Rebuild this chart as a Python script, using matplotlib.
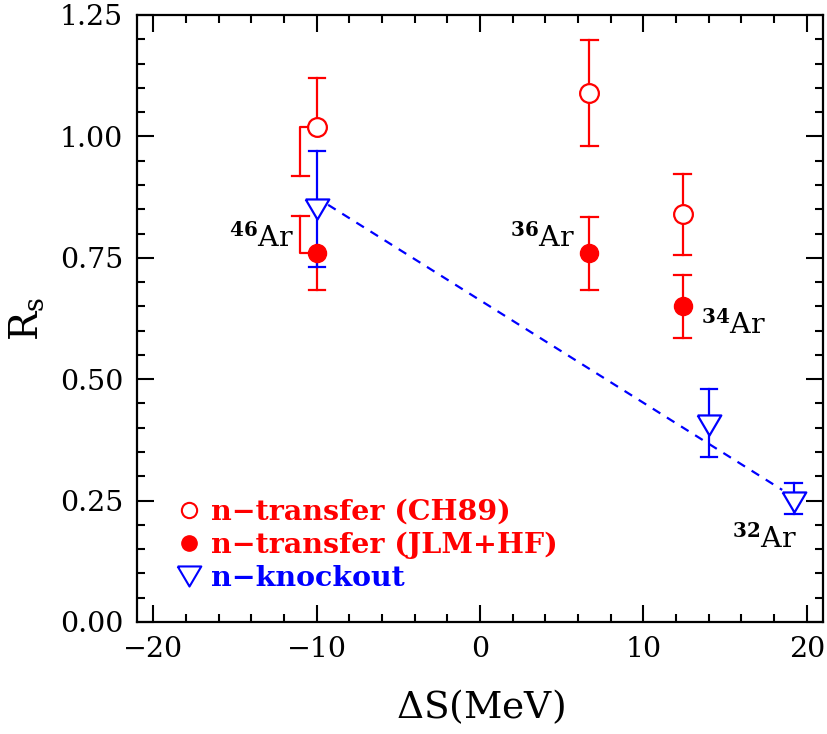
import matplotlib
matplotlib.use("Agg")
import matplotlib.pyplot as plt
from matplotlib.lines import Line2D
from matplotlib.ticker import MultipleLocator

plt.rcParams['font.family'] = ['DejaVu Serif']
plt.rcParams['mathtext.fontset'] = 'dejavuserif'

RED = '#ff0000'
BLUE = '#0000ff'

# n-transfer (CH89), open circles
ch_x = [-10.0, 6.7, 12.4]
ch_y = [1.02, 1.09, 0.84]
ch_lo = [0.918, 0.981, 0.756]
ch_hi = [1.121, 1.198, 0.923]

# n-transfer (JLM+HF), filled circles
jlm_x = [-10.0, 6.7, 12.4]
jlm_y = [0.76, 0.76, 0.651]
jlm_lo = [0.684, 0.684, 0.584]
jlm_hi = [0.836, 0.835, 0.714]

# n-knockout, triangles
ko_x = [-10.0, 14.0, 19.2]
ko_y = [0.85, 0.405, 0.247]
ko_lo = [0.730, 0.339, 0.222]
ko_hi = [0.969, 0.479, 0.286]

# dashed trend line
fit_x = [-9.3, 18.5]
fit_y = [0.859, 0.272]

# isotope labels
iso_names = ['46', '36', '34', '32']
iso_x = [-11.4, 5.8, 13.5, 15.4]
iso_y = [0.772, 0.772, 0.593, 0.152]
iso_ha = ['right', 'right', 'left', 'left']

# 46Ar side-shifted error arms
shift_x = -11.0

tri = [(-1, 0.85), (1, 0.85), (0, -0.85), (-1, 0.85)]

fig = plt.figure(figsize=(8.27, 7.34), dpi=100)
ax = fig.add_axes([0.1657, 0.1526, 0.8295, 0.827])

ax.plot(fit_x, fit_y, color=BLUE, lw=1.6, dashes=(4, 3.5), zorder=2)


def errbars(xs, ys, lo, hi, color, skip_lo=(), skip_hi=()):
    for i, (x, y, l, h) in enumerate(zip(xs, ys, lo, hi)):
        if i not in skip_hi:
            ax.plot([x, x], [y, h], color=color, lw=1.6, zorder=2)
            ax.plot([x - 0.5, x + 0.5], [h, h], color=color, lw=1.6, zorder=2)
        if i not in skip_lo:
            ax.plot([x, x], [y, l], color=color, lw=1.6, zorder=2)
            ax.plot([x - 0.5, x + 0.5], [l, l], color=color, lw=1.6, zorder=2)


errbars(ch_x, ch_y, ch_lo, ch_hi, RED, skip_lo=(0,))
errbars(jlm_x, jlm_y, jlm_lo, jlm_hi, RED, skip_hi=(0,))
errbars(ko_x, ko_y, ko_lo, ko_hi, BLUE)

# 46Ar shifted arms
ax.plot([ch_x[0], shift_x, shift_x], [ch_y[0], ch_y[0], ch_lo[0]], color=RED, lw=1.6, zorder=2)
ax.plot([shift_x - 0.5, shift_x + 0.5], [ch_lo[0], ch_lo[0]], color=RED, lw=1.6, zorder=2)
ax.plot([jlm_x[0], shift_x, shift_x], [jlm_y[0], jlm_y[0], jlm_hi[0]], color=RED, lw=1.6, zorder=2)
ax.plot([shift_x - 0.5, shift_x + 0.5], [jlm_hi[0], jlm_hi[0]], color=RED, lw=1.6, zorder=2)

ax.plot(ch_x, ch_y, 'o', ms=13.5, mfc='white', mec=RED, mew=1.6, ls='none', zorder=3)
ax.plot(jlm_x, jlm_y, 'o', ms=13, mfc=RED, mec=RED, ls='none', zorder=3)
ax.plot(ko_x, ko_y, marker=tri, ms=17, mfc='white', mec=BLUE, mew=1.6, ls='none', zorder=3)

for name, x, y, ha in zip(iso_names, iso_x, iso_y, iso_ha):
    ax.text(x, y, r'$^{\mathbf{%s}}$Ar' % name, fontsize=20.5, ha=ha, va='baseline')

handles = [
    Line2D([], [], marker='o', ms=11, mfc='white', mec=RED, mew=1.5, ls='none'),
    Line2D([], [], marker='o', ms=11, mfc=RED, mec=RED, ls='none'),
    Line2D([], [], marker=tri, ms=17, mfc='white', mec=BLUE, mew=1.5, ls='none'),
]
labels = ['n\u2212transfer (CH89)', 'n\u2212transfer (JLM+HF)', 'n\u2212knockout']
leg = ax.legend(handles, labels, loc='lower left', bbox_to_anchor=(0.04, 0.03),
                frameon=False, prop={'weight': 'bold', 'size': 20.5},
                handlelength=0.9, handletextpad=0.35, labelspacing=0.22,
                borderaxespad=0, labelcolor=[RED, RED, BLUE])

ax.set_xlim(-21, 21)
ax.set_ylim(0, 1.25)
ax.xaxis.set_major_locator(MultipleLocator(10))
ax.xaxis.set_minor_locator(MultipleLocator(2))
ax.yaxis.set_major_locator(MultipleLocator(0.25))
ax.yaxis.set_minor_locator(MultipleLocator(0.05))
ax.yaxis.set_major_formatter(plt.FormatStrFormatter('%.2f'))
ax.tick_params(which='both', direction='in', top=True, right=True, width=1.5, labelsize=20.5)
ax.tick_params(which='major', length=12, pad=10)
ax.tick_params(which='minor', length=5.5)
for s in ax.spines.values():
    s.set_linewidth(1.6)

ax.set_xlabel(r'$\Delta$S(MeV)', fontsize=27, labelpad=18)
ax.set_ylabel(r'R$_\mathrm{s}$', fontsize=28, labelpad=10)

fig.savefig('out.png', dpi=100)
